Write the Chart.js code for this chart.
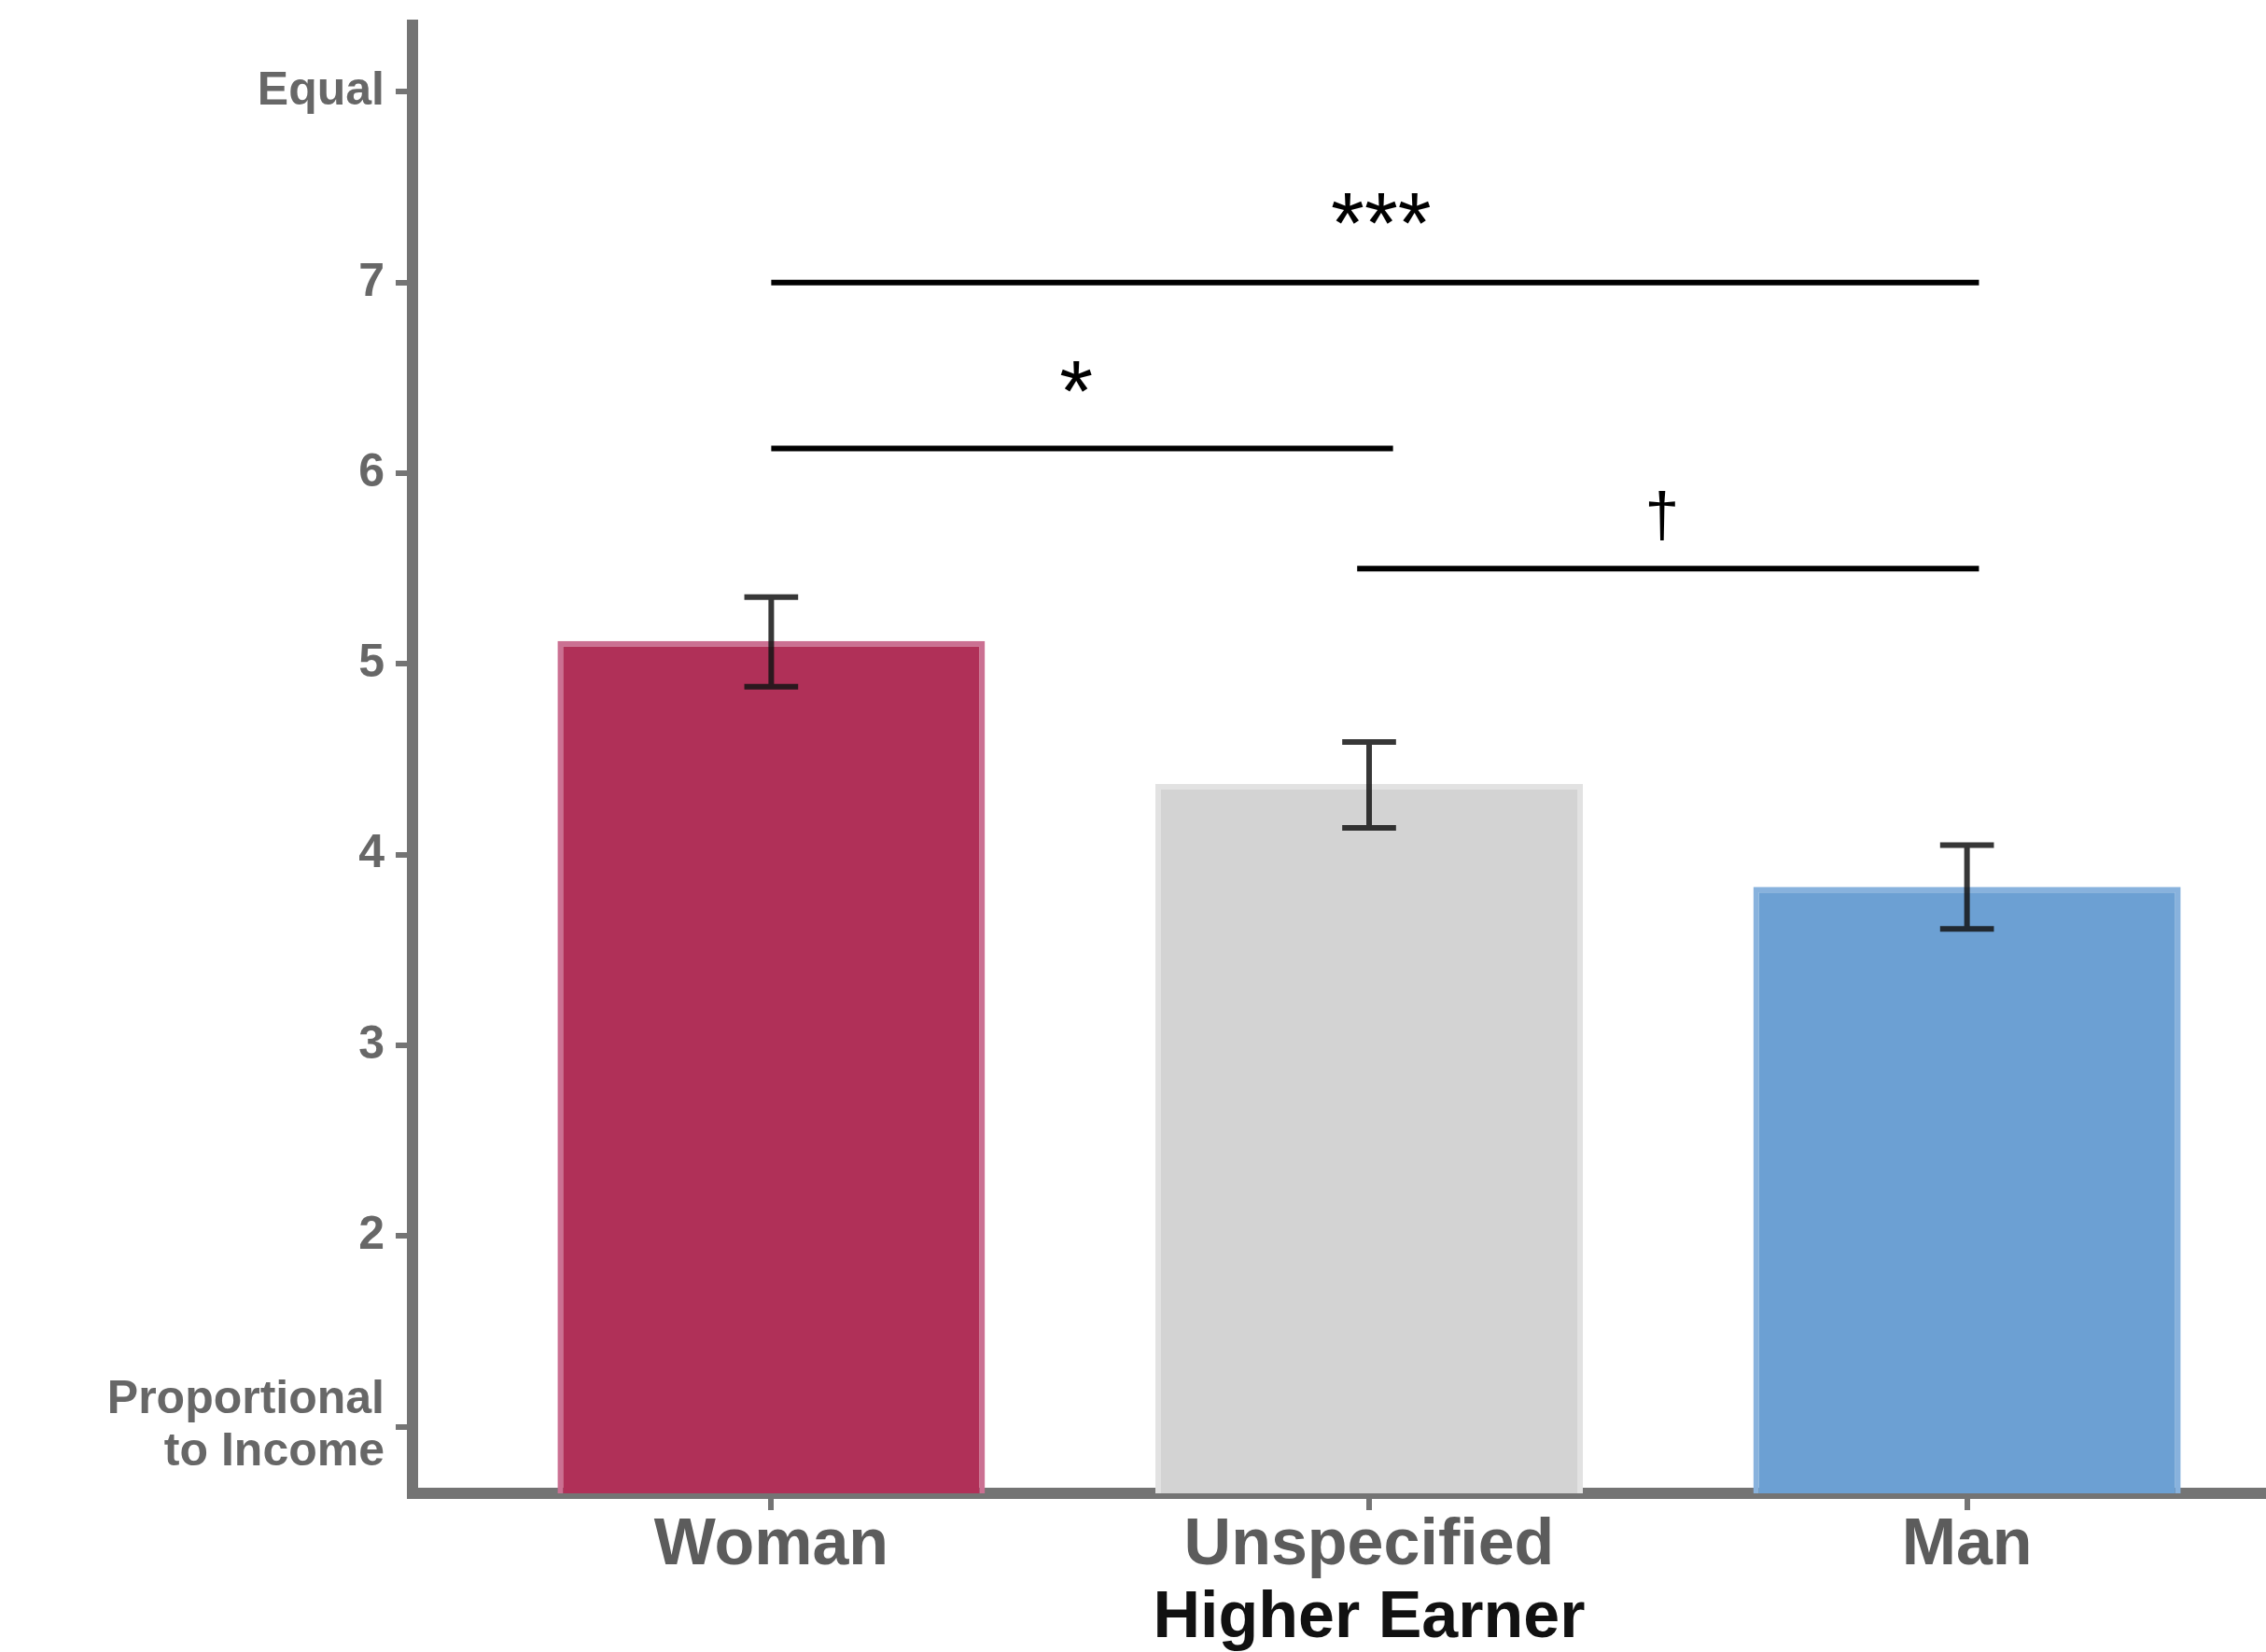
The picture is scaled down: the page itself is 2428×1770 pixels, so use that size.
<!DOCTYPE html>
<html>
<head>
<meta charset="utf-8">
<script src="https://cdn.jsdelivr.net/npm/chart.js@4.4.1/dist/chart.umd.min.js"></script>
<style>
  html, body { margin: 0; padding: 0; background: #ffffff; overflow: hidden; width: 2428px; height: 1770px; }
  #wrap { width: 2492px; height: 1770px; position: relative; }
</style>
</head>
<body>
<div id="wrap"><canvas id="c"></canvas></div>
<script>
// ---------------- data ----------------
const categories = ["Woman", "Unspecified", "Man"];
const categoryPositions = [1, 2, 3];
const meanValues = [5.12, 4.37, 3.83];
const errorLower = [4.88, 4.14, 3.61];
const errorUpper = [5.35, 4.59, 4.05];
const yTickValues = [1, 2, 3, 4, 5, 6, 7, 8];
const yTickLabels = [["Proportional", "to Income"], "2", "3", "4", "5", "6", "7", "Equal"];
const sigLabels = ["***", "*", "\u2020"];
const sigStart = [1.0, 1.0, 1.98];
const sigEnd = [3.02, 2.04, 3.02];
const sigLineY = [7.0, 6.13, 5.5];
const sigLabelX = [2.02, 1.51, 2.49];
const sigLabelY = [7.28, 6.40, 5.76];
const xAxisTitle = "Higher Earner";
const yRange = [0.65, 8.35];
const xRange = [0.4, 3.6];

// ---------------- style ----------------
const FONT = '"Liberation Sans", Arial, Helvetica, sans-serif';
const barFill = ["#B03058", "#D3D3D3", "#6CA0D3"];
const barEdge = ["#CB7092", "#E2E2E2", "#88B2DD"];
const axisColor = "#747474";

const annotate = {
  id: "annotate",
  afterDatasetsDraw(chart) {
    const { ctx, scales: { x, y } } = chart;
    ctx.save();
    // error bars
    const capHalf = 0.045;
    ctx.strokeStyle = "rgba(20,20,20,0.85)";
    ctx.lineWidth = 6;
    ctx.lineCap = "butt";
    categoryPositions.forEach((cx, i) => {
      const px = x.getPixelForValue(cx);
      const pl = x.getPixelForValue(cx - capHalf);
      const pr = x.getPixelForValue(cx + capHalf);
      const lo = y.getPixelForValue(errorLower[i]);
      const hi = y.getPixelForValue(errorUpper[i]);
      ctx.beginPath();
      ctx.moveTo(px, lo); ctx.lineTo(px, hi);
      ctx.moveTo(pl, lo); ctx.lineTo(pr, lo);
      ctx.moveTo(pl, hi); ctx.lineTo(pr, hi);
      ctx.stroke();
    });
    // significance brackets
    ctx.strokeStyle = "#000000";
    ctx.lineWidth = 6;
    sigLineY.forEach((v, i) => {
      const yy = y.getPixelForValue(v);
      ctx.beginPath();
      ctx.moveTo(x.getPixelForValue(sigStart[i]), yy);
      ctx.lineTo(x.getPixelForValue(sigEnd[i]), yy);
      ctx.stroke();
    });
    ctx.fillStyle = "#000000";
    ctx.textAlign = "center";
    ctx.textBaseline = "middle";
    sigLabels.forEach((t, i) => {
      ctx.font = (t === "\u2020" ? "66px " : "92px ") + FONT;
      ctx.fillText(t, x.getPixelForValue(sigLabelX[i]), y.getPixelForValue(sigLabelY[i]));
    });
    ctx.restore();
  }
};

new Chart(document.getElementById("c"), {
  type: "bar",
  data: {
    datasets: [{
      data: categoryPositions.map((p, i) => ({ x: p, y: meanValues[i] })),
      backgroundColor: barFill,
      borderColor: barEdge,
      borderWidth: 6,
      borderSkipped: "start",
      barPercentage: 0.715,
      categoryPercentage: 1.0,
      clip: 0
    }]
  },
  options: {
    responsive: true,
    maintainAspectRatio: false,
    animation: false,
    layout: { padding: { top: 27, left: 0, right: 0, bottom: 0 } },
    plugins: { legend: { display: false }, tooltip: { enabled: false } },
    scales: {
      x: {
        type: "linear",
        min: xRange[0],
        max: xRange[1],
        offset: false,
        grid: { display: true, offset: false, drawOnChartArea: false, drawTicks: true, tickLength: 18, color: axisColor, lineWidth: 6 },
        border: { display: true, color: axisColor, width: 12 },
        afterBuildTicks: a => { a.ticks = categoryPositions.map(v => ({ value: v })); },
        ticks: {
          autoSkip: false,
          maxRotation: 0,
          padding: 4,
          color: "#5c5c5c",
          font: { family: FONT, size: 70, weight: "bold", lineHeight: 1 },
          callback: v => { const k = categoryPositions.indexOf(v); return k >= 0 ? categories[k] : ""; }
        },
        title: { display: true, text: xAxisTitle, color: "#111111", padding: 0, font: { family: FONT, size: 70, weight: "bold", lineHeight: 1 } },
        afterFit: s => { s.height = 170; s.paddingLeft = 0; s.paddingRight = 0; }
      },
      y: {
        min: yRange[0],
        max: yRange[1],
        grid: { display: true, drawOnChartArea: false, drawTicks: true, tickLength: 18, color: axisColor, lineWidth: 6 },
        border: { display: true, color: axisColor, width: 12 },
        afterBuildTicks: a => { a.ticks = yTickValues.map(v => ({ value: v })); },
        ticks: {
          padding: 12,
          color: "#676767",
          font: { family: FONT, size: 50, weight: "bold", lineHeight: 1.12 },
          callback: v => { const k = yTickValues.indexOf(v); return k >= 0 ? yTickLabels[k] : ""; }
        },
        afterFit: s => { s.width = 442; s.paddingTop = 0; s.paddingBottom = 0; }
      }
    }
  },
  plugins: [annotate]
});
</script>
</body>
</html>
